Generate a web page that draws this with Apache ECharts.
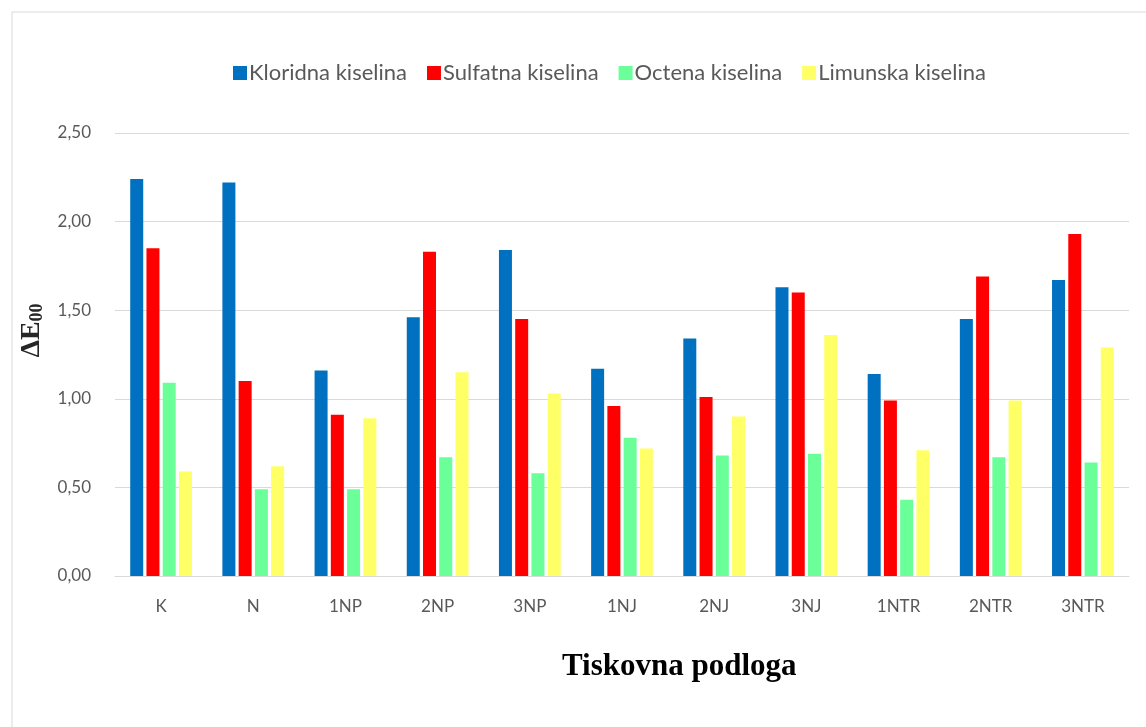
<!DOCTYPE html>
<html>
<head>
<meta charset="utf-8">
<script src="https://cdn.jsdelivr.net/npm/echarts@6/dist/echarts.min.js"></script>
<style>
  html, body { margin: 0; padding: 0; background: #fff; }
  #chart { width: 1146px; height: 727px; }
</style>
</head>
<body>
<div id="chart"></div>
<script>
const categories = ['K', 'N', '1NP', '2NP', '3NP', '1NJ', '2NJ', '3NJ', '1NTR', '2NTR', '3NTR']
const seriesNames = ['Kloridna kiselina', 'Sulfatna kiselina', 'Octena kiselina', 'Limunska kiselina']
const kloridna = [2.24, 2.22, 1.16, 1.46, 1.84, 1.17, 1.34, 1.63, 1.14, 1.45, 1.67]
const sulfatna = [1.85, 1.10, 0.91, 1.83, 1.45, 0.96, 1.01, 1.60, 0.99, 1.69, 1.93]
const octena = [1.09, 0.49, 0.49, 0.67, 0.58, 0.78, 0.68, 0.69, 0.43, 0.67, 0.64]
const limunska = [0.59, 0.62, 0.89, 1.15, 1.03, 0.72, 0.90, 1.36, 0.71, 0.99, 1.29]
const colors = ['#0070C0', '#FF0000', '#6AFF99', '#FFFF66']

const values = [kloridna, sulfatna, octena, limunska]
const labelFont = 'Lato, "Open Sans", sans-serif'
const serifFont = '"Liberation Serif", "DejaVu Serif", serif'

let chart = echarts.init(document.getElementById('chart'))

const option = {
  animation: false,
  color: colors,
  legend: {
    top: 57,
    left: 228,
    itemWidth: 14,
    itemHeight: 14,
    itemGap: 20,
    icon: 'rect',
    textStyle: { fontSize: 22, color: '#595959', fontFamily: labelFont, padding: [0, 0, 0, -3] },
    data: seriesNames
  },
  grid: { left: 115, right: 17, top: 133, bottom: 151 },
  xAxis: {
    type: 'category',
    data: categories,
    axisLine: { lineStyle: { color: '#d9d9d9', width: 1 } },
    axisTick: { show: false },
    axisLabel: { fontSize: 17, color: '#595959', fontFamily: labelFont, margin: 22 }
  },
  yAxis: {
    type: 'value',
    min: 0,
    max: 2.5,
    interval: 0.5,
    axisLine: { show: false },
    axisTick: { show: false },
    splitLine: { lineStyle: { color: '#d9d9d9', width: 1 } },
    axisLabel: {
      fontSize: 17, color: '#595959', fontFamily: labelFont, margin: 24,
      formatter: v => v.toFixed(2).replace('.', ',')
    },
    name: '{a|ΔE}{b|00}',
    nameLocation: 'middle',
    nameGap: 64,
    nameRotate: 90,
    nameTextStyle: {
      padding: [0, 0, 0, 48],
      rich: {
        a: { fontFamily: serifFont, fontWeight: 'bold', fontSize: 28, color: '#262626' },
        b: { fontFamily: serifFont, fontWeight: 'bold', fontSize: 18, color: '#262626', padding: [12, 0, 0, 0] }
      }
    }
  },
  graphic: [
    {
      type: 'rect',
      shape: { x: 12, y: 12, width: 1300, height: 900 },
      style: { fill: 'none', stroke: '#d9d9d9', lineWidth: 1 },
      silent: true
    },
    {
      type: 'text',
      left: 562,
      top: 651,
      style: {
        text: 'Tiskovna podloga',
        fontFamily: serifFont,
        fontWeight: 'bold',
        fontSize: 31,
        fill: '#000'
      }
    }
  ],
  series: seriesNames.map((name, i) => ({
    name: name,
    type: 'bar',
    data: values[i],
    barWidth: 13,
    barGap: '25%',
    itemStyle: { color: colors[i] }
  }))
}

chart.setOption(option)
</script>
</body>
</html>
